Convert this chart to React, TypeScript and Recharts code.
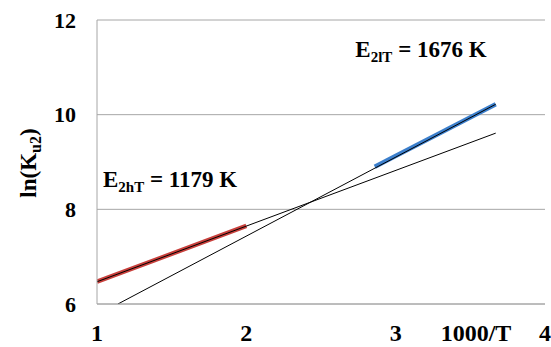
import React from 'react';
import { LineChart, Line, XAxis, YAxis, CartesianGrid, ReferenceDot } from 'recharts';

// fitted lines (thin black) and measured segments (thick colour)
const highFitX = [1, 3.67];
const highFitY = [6.47, 9.61];
const lowFitX = [1.14, 3.67];
const lowFitY = [6.0, 10.22];
const highSegX = [1, 2.0];
const highSegY = [6.47, 7.65];
const lowSegX = [2.86, 3.67];
const lowSegY = [8.9, 10.22];

const xTicks = [1, 2, 3, 4];
const yTicks = [6, 8, 10, 12];

const FONT = 'Liberation Serif';
const GRID = '#a6a6a6';

const toPoints = (xs: number[], ys: number[]) => xs.map((x, i) => ({ x, y: ys[i] }));

const energyLabel = (sub: string, value: string) => (props: any) => {
  const { x, y } = props.viewBox;
  return (
    <text x={x} y={y} style={{ fontFamily: FONT, fontWeight: 'bold', fontSize: 23 }} fill="#000">
      E
      <tspan style={{ fontSize: 15 }} dy={5}>{sub}</tspan>
      <tspan dy={-5}>{` = ${value} K`}</tspan>
    </text>
  );
};

const YLabel = (props: any) => {
  const { x, y, height } = props.viewBox;
  const cx = x + 28;
  const cy = y + height / 2 + 1;
  return (
    <text
      x={cx}
      y={cy + 8}
      transform={`rotate(-90, ${cx}, ${cy})`}
      textAnchor="middle"
      style={{ fontFamily: FONT, fontWeight: 'bold', fontSize: 23 }}
      fill="#000"
    >
      ln(K
      <tspan style={{ fontSize: 16 }} dy={5}>u2</tspan>
      <tspan dy={-5}>)</tspan>
    </text>
  );
};

const XLabel = (props: any) => {
  const { x, y } = props.viewBox;
  return (
    <text x={x + 379} y={y + 37} textAnchor="middle" style={{ fontFamily: FONT, fontWeight: 'bold', fontSize: 24 }} fill="#000">
      1000/T
    </text>
  );
};

const tickStyle = { fontFamily: FONT, fontWeight: 'bold', fill: '#000' };

export default function App() {
  return (
    <div style={{ position: 'absolute', left: 0, top: 0, width: 551, height: 347, background: '#fff', fontFamily: FONT }}>
      <LineChart width={551} height={347} margin={{ top: 20, right: 6, bottom: 13, left: 0 }}>
        <CartesianGrid vertical={false} stroke={GRID} strokeWidth={1} />
        <XAxis
          type="number"
          dataKey="x"
          domain={[1, 4]}
          ticks={xTicks}
          allowDataOverflow
          tickLine={false}
          axisLine={{ stroke: GRID }}
          tickMargin={14}
          height={30}
          tick={{ ...tickStyle, fontSize: 24, style: { fontFamily: FONT } }}
          label={{ content: XLabel }}
        />
        <YAxis
          type="number"
          domain={[6, 12]}
          ticks={yTicks}
          allowDataOverflow
          width={97}
          tickLine={false}
          axisLine={{ stroke: GRID }}
          tickMargin={15}
          tick={{ ...tickStyle, fontSize: 22, style: { fontFamily: FONT } }}
          label={{ content: YLabel }}
        />
        <Line data={toPoints(highSegX, highSegY)} dataKey="y" stroke="#c8403c" strokeWidth={4.5} dot={false} activeDot={false} isAnimationActive={false} />
        <Line data={toPoints(lowSegX, lowSegY)} dataKey="y" stroke="#3c7fcc" strokeWidth={4.5} dot={false} activeDot={false} isAnimationActive={false} />
        <Line data={toPoints(highFitX, highFitY)} dataKey="y" stroke="#000" strokeWidth={1} dot={false} activeDot={false} isAnimationActive={false} />
        <Line data={toPoints(lowFitX, lowFitY)} dataKey="y" stroke="#000" strokeWidth={1} dot={false} activeDot={false} isAnimationActive={false} />
        <ReferenceDot x={1.04} y={8.47} r={0} fill="none" stroke="none" label={{ content: energyLabel('2hT', '1179') }} />
        <ReferenceDot x={2.73} y={11.22} r={0} fill="none" stroke="none" label={{ content: energyLabel('2lT', '1676') }} />
      </LineChart>
    </div>
  );
}
